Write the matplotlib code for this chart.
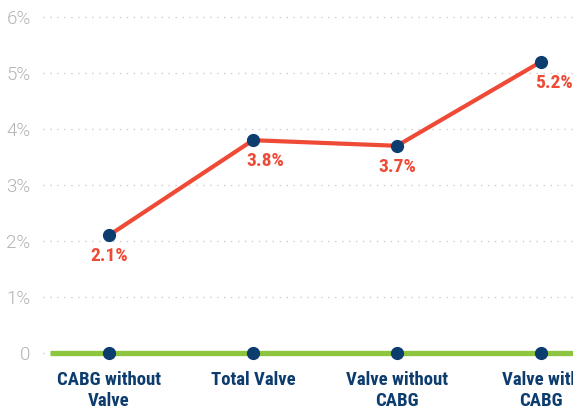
import matplotlib.pyplot as plt

categories = ["CABG without\nValve", "Total Valve", "Valve without\nCABG", "Valve with\nCABG"]
rates = [2.1, 3.8, 3.7, 5.2]
baseline = [0, 0, 0, 0]
ytick_vals = [0, 1, 2, 3, 4, 5, 6]
ytick_labels = ["0", "1%", "2%", "3%", "4%", "5%", "6%"]

cond = ["Roboto Condensed", "DejaVu Sans"]
navy = "#0d3c6e"
red = "#ee4a36"
green = "#8cc63e"

fig = plt.figure(figsize=(5.73, 4.09), dpi=100)
ax = fig.add_axes([43 / 573, 46 / 409, 560 / 573, 351 / 409])

x = list(range(len(categories)))
ax.set_xlim(-0.458, -0.458 + 560 / 144)
ax.set_ylim(-0.18, 6.09)

# green zero line, starts a bit right of the axis edge
ax.plot([-0.41, 3.9], [0, 0], color=green, lw=3.8, solid_capstyle="butt", zorder=2)
ax.plot(x, baseline, "o", color=navy, ms=8.5, zorder=4)

ax.plot(x, rates, color=red, lw=3, zorder=3, solid_capstyle="round")
ax.plot(x, rates, "o", color=navy, ms=8.5, zorder=4)

# data labels under the points
offsets = [0, 9, 0, 9]
for xi, v, dx in zip(x, rates, offsets):
    ax.annotate(f"{v}%", (xi, v), xytext=(dx, -15), textcoords="offset points",
                ha="center", va="center", color=red, fontsize=14,
                fontweight="bold", family=cond)

ax.set_yticks(ytick_vals)
ax.set_yticklabels(ytick_labels)
ax.set_xticks(x)
ax.set_xticklabels(categories)
ax.tick_params(axis="y", length=0, pad=9, labelsize=13.5, labelcolor="#b3b3b3")
ax.tick_params(axis="x", length=0, pad=6)
for lab in ax.get_yticklabels():
    lab.set_family(["Roboto", "DejaVu Sans"])
    lab.set_fontweight(300)
for lab in ax.get_xticklabels():
    lab.set_family(cond)
    lab.set_fontweight("bold")
    lab.set_fontsize(13.5)
    lab.set_color(navy)
    lab.set_linespacing(1.2)

ax.grid(axis="y", color="#cccccc", ls=(0, (1, 4)), lw=1)
ax.grid(axis="x", visible=False)
ax.set_axisbelow(True)
for s in ax.spines.values():
    s.set_visible(False)

fig.savefig("out.png", dpi=100)
